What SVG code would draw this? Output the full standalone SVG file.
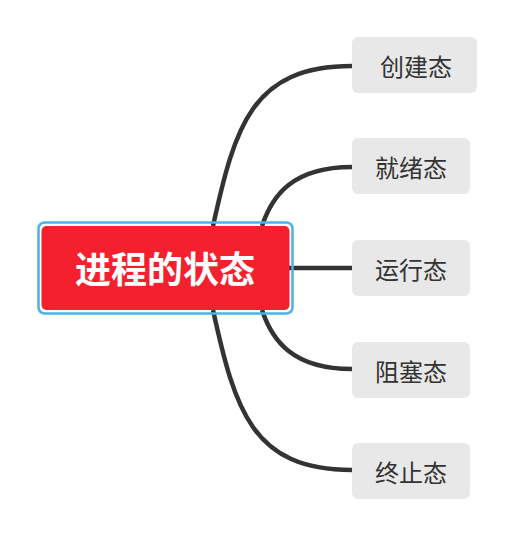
<svg xmlns="http://www.w3.org/2000/svg" width="516" height="536" viewBox="0 0 516 536">
<style>
.conn{fill:none;stroke:#333333;stroke-width:4.5;stroke-linecap:butt}
.child rect{fill:#E8E8E8}
.child text{font-family:"Noto Sans CJK SC","Noto Sans",sans-serif;font-size:24px;fill:#333333;text-anchor:middle;dominant-baseline:central}
.root text{font-family:"Noto Sans CJK SC","Noto Sans",sans-serif;font-size:36px;font-weight:bold;fill:#FFFFFF;text-anchor:middle;dominant-baseline:central}
</style>
<rect width="516" height="536" fill="#FFFFFF"/>
<g id="connectors">
<path class="conn" d="M213,226 C235,126 252,66 352,66"/>
<path class="conn" d="M262,226 C272,196 292,167 352,167"/>
<path class="conn" d="M289,268 L352,268"/>
<path class="conn" d="M262,310 C272,340 292,369 352,369"/>
<path class="conn" d="M213,310 C235,410 252,470 352,470"/>
</g>
<g id="root" class="root">
<rect x="38.5" y="222.5" width="254" height="91" rx="6" fill="none" stroke="#4AB3E8" stroke-width="2.5"/>
<rect x="41.5" y="226" width="248" height="84" rx="5" fill="#F5202E"/>
<text x="165" y="267">进程的状态</text>
</g>
<g id="n1" class="child"><rect x="352" y="37" width="125" height="56" rx="6"/><text x="416" y="65">创建态</text></g>
<g id="n2" class="child"><rect x="352" y="138" width="118" height="56" rx="6"/><text x="411" y="166">就绪态</text></g>
<g id="n3" class="child"><rect x="352" y="240" width="118" height="56" rx="6"/><text x="411" y="268">运行态</text></g>
<g id="n4" class="child"><rect x="352" y="342" width="118" height="56" rx="6"/><text x="411" y="370">阻塞态</text></g>
<g id="n5" class="child"><rect x="352" y="443" width="118" height="56" rx="6"/><text x="411" y="471">终止态</text></g>
</svg>
